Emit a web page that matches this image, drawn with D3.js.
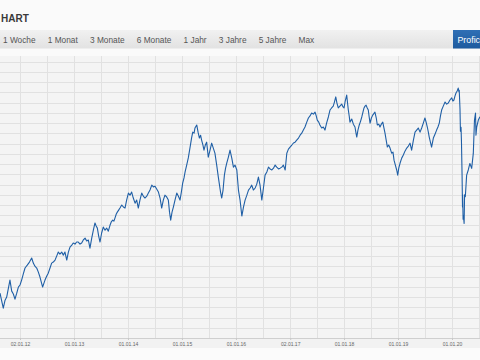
<!DOCTYPE html>
<html><head><meta charset="utf-8">
<script src="https://cdn.jsdelivr.net/npm/d3@7"></script>
<style>html,body{margin:0;padding:0;background:#fafafa;overflow:hidden}svg{display:block;font-family:"Liberation Sans",Arial,sans-serif}</style>
</head><body><svg id="c" width="480" height="360"></svg>
<script>
const title = "HART";
const tabs = ["1 Woche","1 Monat","3 Monate","6 Monate","1 Jahr","3 Jahre","5 Jahre","Max"];
const buttonLabel = "Profic";
const tickDates = ["2012-01-02","2013-01-01","2014-01-01","2015-01-01","2016-01-01","2017-01-02","2018-01-01","2019-01-01","2020-01-01"];
const tickLabels = ["02.01.12","01.01.13","01.01.14","01.01.15","01.01.16","02.01.17","01.01.18","01.01.19","01.01.20"];
const dates = [
"2011-08-20","2011-08-30","2011-09-11","2011-09-23","2011-10-04","2011-10-13","2011-10-26","2011-11-07","2011-11-18","2011-11-29","2011-12-11","2011-12-22",
"2012-01-02","2012-01-13","2012-01-24","2012-02-05","2012-02-20","2012-03-06","2012-03-21","2012-04-01","2012-04-12","2012-04-24","2012-05-05","2012-05-16","2012-05-25","2012-06-03","2012-06-12","2012-06-19","2012-07-01","2012-07-11","2012-07-23","2012-08-03","2012-08-14","2012-08-26","2012-09-06","2012-09-17","2012-09-28","2012-10-10","2012-10-21","2012-11-01","2012-11-13","2012-11-24","2012-12-05","2012-12-17","2012-12-27",
"2013-01-08","2013-01-19","2013-01-30","2013-02-11","2013-02-22","2013-03-05","2013-03-17","2013-03-28","2013-04-08","2013-04-19","2013-05-01","2013-05-12","2013-05-23","2013-05-31","2013-06-08","2013-06-17","2013-06-26","2013-07-07","2013-07-18","2013-07-30","2013-08-10","2013-08-21","2013-09-02","2013-09-10","2013-09-20","2013-09-28","2013-10-05","2013-10-14","2013-10-21","2013-10-30","2013-11-08","2013-11-20","2013-12-01","2013-12-12","2013-12-23",
"2014-01-04","2014-01-15","2014-01-26","2014-02-06","2014-02-18","2014-03-01","2014-03-12","2014-03-23","2014-04-04","2014-04-15","2014-04-26","2014-05-08","2014-05-19","2014-05-30","2014-06-11","2014-06-22","2014-07-03","2014-07-14","2014-07-26","2014-08-06","2014-08-17","2014-08-28","2014-09-08","2014-09-20","2014-10-01","2014-10-09","2014-10-17","2014-10-26","2014-11-04","2014-11-15","2014-11-27","2014-12-08","2014-12-19","2014-12-28",
"2015-01-06","2015-01-15","2015-01-22","2015-02-02","2015-02-13","2015-02-24","2015-03-07","2015-03-15","2015-03-24","2015-03-30","2015-04-11","2015-04-20","2015-04-29","2015-05-07","2015-05-14","2015-05-23","2015-05-30","2015-06-08","2015-06-17","2015-06-23","2015-06-28","2015-07-10","2015-07-21","2015-08-01","2015-08-12","2015-08-24","2015-09-04","2015-09-12","2015-09-19","2015-09-27","2015-10-06","2015-10-15","2015-10-23","2015-10-31","2015-11-11","2015-11-22","2015-12-04","2015-12-15","2015-12-26",
"2016-01-07","2016-01-18","2016-01-29","2016-02-10","2016-02-21","2016-03-03","2016-03-15","2016-03-26","2016-04-06","2016-04-17","2016-04-28","2016-05-10","2016-05-21","2016-06-01","2016-06-12","2016-06-24","2016-07-05","2016-07-16","2016-07-28","2016-08-08","2016-08-19","2016-08-31","2016-09-11","2016-09-22","2016-10-03","2016-10-15","2016-10-26","2016-11-06","2016-11-17","2016-11-29","2016-12-10","2016-12-21",
"2017-01-01","2017-01-13","2017-01-24","2017-02-04","2017-02-15","2017-02-27","2017-03-10","2017-03-21","2017-04-01","2017-04-12","2017-04-24","2017-05-05","2017-05-16","2017-05-27","2017-06-08","2017-06-19","2017-06-27","2017-07-04","2017-07-14","2017-07-22","2017-08-03","2017-08-14","2017-08-25","2017-09-05","2017-09-17","2017-09-28","2017-10-09","2017-10-20","2017-10-28","2017-11-06","2017-11-14","2017-11-23","2017-12-04","2017-12-16","2017-12-25",
"2018-01-01","2018-01-09","2018-01-19","2018-01-24","2018-01-30","2018-02-05","2018-02-10","2018-02-22","2018-03-05","2018-03-16","2018-03-23","2018-03-28","2018-04-05","2018-04-14","2018-04-23","2018-05-01","2018-05-09","2018-05-16","2018-05-23","2018-05-30","2018-06-07","2018-06-14","2018-06-20","2018-06-26","2018-07-05","2018-07-14","2018-07-29","2018-08-07","2018-08-14","2018-08-24","2018-09-01","2018-09-10","2018-09-20","2018-09-28","2018-10-05","2018-10-13","2018-10-21","2018-10-30","2018-11-08","2018-11-19","2018-11-28","2018-12-05","2018-12-14","2018-12-23","2018-12-30",
"2019-01-06","2019-01-15","2019-01-26","2019-02-06","2019-02-17","2019-03-01","2019-03-12","2019-03-23","2019-04-03","2019-04-15","2019-04-26","2019-05-07","2019-05-18","2019-05-30","2019-06-10","2019-06-21","2019-07-02","2019-07-10","2019-07-18","2019-07-25","2019-07-31","2019-08-08","2019-08-16","2019-08-28","2019-09-08","2019-09-19","2019-09-28","2019-10-07","2019-10-15","2019-10-23","2019-11-03","2019-11-15","2019-11-26","2019-12-07","2019-12-18","2019-12-30",
"2020-01-07","2020-01-14","2020-01-21","2020-01-28","2020-02-05","2020-02-12","2020-02-17","2020-02-19","2020-02-24","2020-02-27","2020-03-02","2020-03-05","2020-03-09","2020-03-12","2020-03-13","2020-03-16","2020-03-18","2020-03-23","2020-03-26","2020-03-31","2020-04-09","2020-04-20","2020-05-01","2020-05-13","2020-05-24","2020-06-01","2020-06-08","2020-06-11","2020-06-16","2020-06-27","2020-07-08"
];
const values = [
1219,1185,1146,1185,1200,1234,1283,1229,1215,1190,1219,1249,
1259,1283,1312,1342,1356,1371,1391,1366,1351,1342,1322,1298,1273,1249,1268,1283,1303,1317,1342,1366,1371,1381,1400,1420,1410,1420,1405,1420,1381,1420,1444,1454,1464,
1459,1469,1469,1459,1464,1479,1488,1474,1479,1439,1488,1527,1562,1547,1537,1498,1469,1513,1542,1527,1537,1522,1552,1567,1576,1571,1586,1606,1615,1625,1635,1650,1640,1635,1674,
1708,1698,1713,1684,1659,1674,1635,1674,1708,1693,1684,1693,1708,1723,1747,1738,1742,1728,1713,1684,1635,1674,1698,1689,1674,1615,1576,1615,1640,1674,1708,1693,1674,1713,
1757,1782,1811,1845,1880,1928,1977,2006,2001,2026,2041,2006,1977,1991,1967,1943,1918,1943,1957,1918,1884,1918,1952,1928,1903,1845,1786,1747,1713,1684,1723,1796,1830,1855,1884,1918,1879,1835,1845,
1821,1723,1674,1596,1640,1674,1698,1723,1733,1747,1723,1733,1752,1786,1747,1674,1733,1796,1811,1835,1826,1821,1830,1845,1835,1826,1830,1835,1845,1821,1903,1923,
1933,1943,1953,1957,1967,1977,1991,2001,2016,2031,2055,2075,2085,2099,2094,2104,2085,2065,2055,2041,2026,2031,2016,2050,2080,2114,2124,2133,2153,2178,2148,2124,2133,2143,2129,
2124,2158,2187,2153,2114,2085,2055,2070,2045,2031,2001,1982,2016,2041,2060,2080,2104,2124,2133,2138,2124,2114,2080,2050,2075,2089,2104,2075,2041,2045,2031,2045,2055,2026,2001,1967,1933,1943,1928,1903,1908,1869,1845,1821,1796,
1830,1855,1879,1894,1913,1928,1938,1952,1918,1967,2006,2016,2026,2006,2026,2050,2075,2055,2031,2006,1982,1957,1933,1977,1996,2016,2031,2050,2085,2114,2133,2153,2143,2148,2163,2173,
2158,2163,2182,2197,2207,2221,2202,2210,2120,2010,2030,1960,1800,1640,1700,1580,1600,1560,1700,1690,1796,1821,1853,1829,1902,2065,2099,1991,2030,2065,2081
];

const W = 480, H = 360;
const plotTop = 56, plotBottom = 338;
const parse = d3.utcParse("%Y-%m-%d");
const series = dates.map((d, i) => ({date: parse(d), value: values[i]}));

const x = d3.scaleUtc().domain([parse(tickDates[0]), parse(tickDates[tickDates.length - 1])]).range([20, 452]);
const y = d3.scaleLinear().domain([1000, 2378]).range([plotBottom, plotTop]);

const svg = d3.select("#c");
const defs = svg.append("defs");
const g1 = defs.append("linearGradient").attr("id","tabg").attr("x1",0).attr("y1",0).attr("x2",0).attr("y2",1);
g1.append("stop").attr("offset","0%").attr("stop-color","#f1f1f1");
g1.append("stop").attr("offset","100%").attr("stop-color","#e2e2e2");
const g2 = defs.append("linearGradient").attr("id","btng").attr("x1",0).attr("y1",0).attr("x2",0).attr("y2",1);
g2.append("stop").attr("offset","0%").attr("stop-color","#2f6fb5");
g2.append("stop").attr("offset","100%").attr("stop-color","#1d5a9e");
defs.append("clipPath").attr("id","pc").append("rect").attr("x",0).attr("y",plotTop).attr("width",W).attr("height",plotBottom-plotTop);

// backgrounds
svg.append("rect").attr("width",W).attr("height",H).attr("fill","#fafafa");
svg.append("rect").attr("x",0).attr("y",30).attr("width",W).attr("height",18.5).attr("fill","url(#tabg)");
svg.append("rect").attr("x",0).attr("y",plotTop).attr("width",W).attr("height",plotBottom-plotTop).attr("fill","#f4f4f4");
svg.append("rect").attr("x",0).attr("y",plotBottom).attr("width",W).attr("height",10).attr("fill","#f2f2f2");

// title
svg.append("text").attr("x",1).attr("y",21.5).attr("font-size",10).attr("font-weight","bold").attr("fill","#3a3a3a").text(title);

// tabs
let tx = 3;
tabs.forEach(t => {
  const el = svg.append("text").attr("x",tx).attr("y",42.5).attr("font-size",8.3).attr("fill","#555").text(t);
  tx += el.node().getComputedTextLength() + 12.2;
});

// button
svg.append("rect").attr("x",453).attr("y",30).attr("width",30).attr("height",18.5).attr("fill","url(#btng)");
svg.append("text").attr("x",457.5).attr("y",42.5).attr("font-size",8.8).attr("fill","#fff").text(buttonLabel);

// grid
const grid = svg.append("g");
const yTicks = d3.range(1050, 2378, 50);
grid.selectAll("line.h").data(yTicks).join("line")
  .attr("x1",0).attr("x2",W)
  .attr("y1",d => Math.round(y(d)) + 0.5).attr("y2",d => Math.round(y(d)) + 0.5)
  .attr("stroke","#e1e1e1").attr("stroke-width",1);
const vTicks = d3.utcMonth.every(6).range(x.invert(0), x.invert(W));
grid.selectAll("line.v").data(vTicks).join("line")
  .attr("x1",d => Math.round(x(d)) + 0.5).attr("x2",d => Math.round(x(d)) + 0.5)
  .attr("y1",plotTop).attr("y2",plotBottom)
  .attr("stroke","#e1e1e1").attr("stroke-width",1);

// x axis
const xAxis = d3.axisBottom(x)
  .tickValues(tickDates.map(parse))
  .tickFormat((d, i) => tickLabels[i])
  .tickSize(2).tickPadding(2);
const ax = svg.append("g").attr("transform",`translate(0,${plotBottom})`).call(xAxis);
ax.select(".domain").attr("stroke","#cfcfcf").attr("d",`M0,0.5H${W}`);
ax.selectAll(".tick line").attr("stroke","#c8c8c8");
ax.selectAll(".tick text").attr("font-size",5).attr("fill","#666").attr("font-family","Liberation Sans, Arial, sans-serif");

// white strip under axis
svg.append("rect").attr("x",0).attr("y",348).attr("width",W).attr("height",12).attr("fill","#fbfbfb");

// line
const line = d3.line().x(d => x(d.date)).y(d => y(d.value));
svg.append("path").datum(series).attr("clip-path","url(#pc)")
  .attr("d",line).attr("fill","none").attr("stroke","#1f5fa6").attr("stroke-width",1.1).attr("stroke-linejoin","round");
</script></body></html>
